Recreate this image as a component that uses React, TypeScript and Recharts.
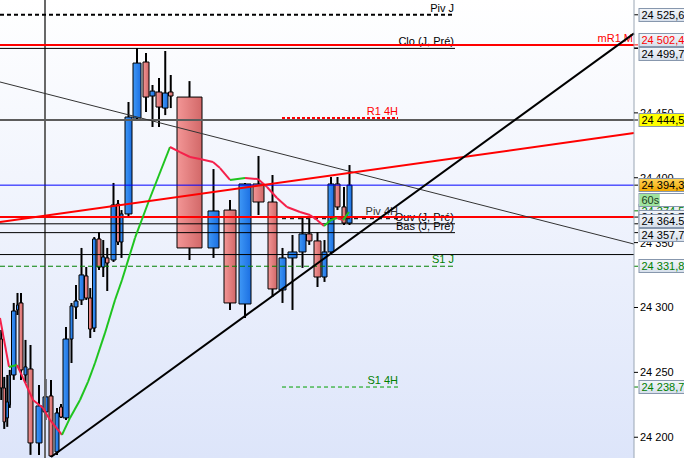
import React from 'react';
import { ComposedChart, XAxis, YAxis, ReferenceLine, ReferenceArea, CartesianGrid } from 'recharts';

const CHART_W = 684;
const CHART_H = 458;
const AXIS_W = 50;
const Y_MIN = 24184;
const Y_MAX = 24537;
const T_MIN = 0;
const T_MAX = 634;
const FONT = '"Liberation Sans", Arial, sans-serif';

const priceTicks = [24200, 24250, 24300, 24350, 24400, 24450, 24500];
// ticks whose labels sit under the price tags (drawn in the tag layer, beneath the tags)
const coveredTicks = [24350, 24400, 24450, 24500];

// ---- candles (time span, OHLC) ----
const barStart = [0, 3, 6, 9, 11.5, 16.5, 19, 24, 28, 36, 43, 49, 55, 59.5, 63, 70, 74, 79, 84.5, 88.5, 92.5, 97, 101.5, 105.5, 111, 116.5, 120, 125, 133, 143, 150, 156, 162.5, 168.5, 177, 208, 224, 239, 253, 268, 279, 288, 299, 306.5, 314, 322, 328, 335, 342, 347];
const barEnd = [2.5, 5.5, 8.5, 10.5, 16, 18.5, 23, 27, 33, 42, 48, 53, 59, 62.5, 69, 73, 78, 84, 88, 92, 96, 101, 105, 109, 116, 119.5, 123, 132, 141, 149, 155, 162, 168, 173, 202, 219, 236, 251, 264, 277, 286, 297, 306, 312, 321, 327, 334, 340, 346, 352];
const barOpen = [24275.7, 24238.0, 24214.9, 24224.9, 24248.0, 24298.1, 24303.5, 24248.0, 24252.6, 24195.6, 24219.5, 24231.8, 24188.7, 24223.3, 24214.9, 24275.7, 24300.4, 24305.8, 24324.3, 24307.3, 24284.2, 24352.8, 24331.2, 24338.2, 24336.6, 24379.8, 24350.5, 24372.1, 24446.0, 24489.2, 24463.0, 24466.1, 24453.7, 24466.1, 24462.2, 24345.9, 24375.1, 24302.7, 24395.2, 24381.3, 24313.5, 24338.2, 24342.8, 24356.7, 24351.3, 24323.5, 24342.8, 24395.2, 24377.5, 24365.1];
const barHigh = [24282.7, 24246.5, 24248.0, 24251.9, 24303.5, 24311.2, 24311.2, 24275.0, 24271.1, 24240.3, 24244.9, 24244.2, 24222.6, 24225.7, 24285.0, 24303.5, 24317.4, 24345.9, 24331.2, 24315.0, 24354.3, 24358.2, 24352.0, 24345.9, 24396.0, 24382.8, 24375.1, 24458.4, 24500.0, 24496.1, 24471.5, 24476.9, 24497.7, 24479.2, 24474.5, 24406.7, 24382.8, 24396.0, 24416.8, 24402.1, 24345.9, 24355.9, 24369.0, 24369.0, 24358.2, 24352.0, 24400.6, 24400.6, 24392.9, 24409.8];
const barLow = [24228.7, 24206.4, 24208.0, 24222.6, 24244.2, 24294.2, 24244.2, 24241.8, 24186.4, 24186.4, 24213.3, 24184.8, 24186.4, 24214.9, 24213.3, 24257.2, 24291.2, 24301.9, 24305.8, 24276.5, 24281.1, 24328.9, 24323.5, 24312.7, 24335.1, 24348.2, 24338.2, 24369.7, 24445.0, 24450.7, 24439.1, 24439.1, 24448.3, 24453.7, 24336.6, 24338.2, 24298.1, 24291.9, 24371.3, 24308.1, 24303.5, 24298.1, 24330.5, 24348.2, 24315.8, 24319.7, 24340.5, 24375.1, 24363.6, 24363.6];
const barClose = [24238.0, 24211.8, 24227.2, 24248.0, 24297.3, 24301.9, 24251.9, 24254.2, 24195.6, 24224.1, 24231.1, 24185.6, 24218.7, 24215.6, 24275.7, 24301.2, 24305.0, 24325.1, 24307.3, 24283.4, 24352.8, 24331.2, 24338.9, 24334.3, 24379.0, 24350.5, 24372.1, 24446.8, 24488.4, 24462.2, 24466.8, 24454.5, 24465.3, 24463.0, 24345.9, 24374.4, 24303.5, 24395.2, 24381.3, 24314.3, 24338.2, 24342.8, 24356.7, 24351.3, 24323.5, 24342.8, 24395.2, 24377.5, 24365.1, 24394.3];

// ---- moving average ----
const maTime = [0, 9, 17, 23, 33, 43, 50, 62, 70, 80, 88, 95, 105, 115, 122, 135, 150, 170, 180, 190, 200, 213, 220, 230, 245, 258, 267, 277, 287, 300, 310, 317, 324, 331, 337, 343, 349];
const maValue = [24291.9, 24254.2, 24255.7, 24245.7, 24228.7, 24222.6, 24213.3, 24201.8, 24214.9, 24228.7, 24242.6, 24257.2, 24280.4, 24305.8, 24321.2, 24353.6, 24384.4, 24423.7, 24419.8, 24416.0, 24414.4, 24412.1, 24407.5, 24398.3, 24399.8, 24399.0, 24392.9, 24384.4, 24377.5, 24373.6, 24371.3, 24367.4, 24362.8, 24367.4, 24369.0, 24367.4, 24373.6];

// ---- horizontal levels ----
const dayLevelNames = ['Piv J', 'Clo (J, Pré)', 'Ouv (J, Pré)', 'Bas (J, Pré)', 'S1 J'];
const dayLevelValues = [24525.6, 24499.7, 24364.5, 24357.7, 24331.8];
const dayLevelEnd = 455;
const h4LevelNames = ['R1 4H', 'Piv 4H', 'S1 4H'];
const h4LevelValues = [24446.0, 24368.8, 24238.7];
const h4Start = 282;
const h4End = 398;
const monthLevelName = 'mR1 M';
const monthLevelValue = 24502.4;
const greyLevelValue = 24444.5;
const lastPrice = 24394.3;
const redLevelValue = 24369.7;
const blackLevelValue = 24340.8;
const cursorTime = 45;

// ---- trend lines [time, price] ----
const supportLine = [[51, 24184.8], [634, 24511.3]];
const channelLine = [[0, 24365.9], [634, 24434.5]];
const resistLine = [[0, 24473.8], [634, 24348.9]];

// ---- price tags on the axis ----
const tagValues = [24525.6, 24502.4, 24499.7, 24444.5, 24394.3, 24364.5, 24357.7, 24331.8, 24238.7];
const tagTexts = ['24 525,6', '24 502,4', '24 499,7', '24 444,5', '24 394,3', '24 364.5', '24 357,7', '24 331,8', '24 238,7'];
const hiddenTagValues = [24374.5, 24369.7];
const hiddenTagTexts = ['24 374,5', '24 369,7'];
const timerText = '60s';
const timerFraction = 0.45;

// styles
const tagStyles = [
  { color: '#000', bg: 'url(#gTag)' },
  { color: '#ff0000', bg: 'url(#gTag)' },
  { color: '#000', bg: 'url(#gTag)' },
  { color: '#000', bg: '#ffff00' },
  { color: '#000', bg: 'url(#gOrange)', timer: true },
  { color: '#000', bg: 'url(#gTag)' },
  { color: '#000', bg: 'url(#gTag)' },
  { color: '#008000', bg: 'url(#gTag)' },
  { color: '#008000', bg: 'url(#gTag)' },
];
const hiddenTagStyles = [
  { color: '#008000', bg: 'url(#gTag)' },
  { color: '#000', bg: 'url(#gTag)' },
];
const dayLevelStyles = [
  { stroke: '#000', width: 2, dash: '4 3', text: '#000' },
  { stroke: '#000', width: 1, dash: undefined, text: '#000' },
  { stroke: '#000', width: 1, dash: undefined, text: '#000' },
  { stroke: '#000', width: 1, dash: undefined, text: '#000' },
  { stroke: '#008000', width: 1, dash: '5 3', text: '#008000' },
];
const h4LevelStyles = [
  { stroke: '#ff0000', width: 2, dash: '3 2', text: '#ff0000' },
  { stroke: '#222', width: 2, dash: '4 4', text: '#333' },
  { stroke: '#00a000', width: 1, dash: '4 3', text: '#008000' },
];

const candles = barStart.map((t0, i) => ({
  t0,
  t1: barEnd[i],
  o: barOpen[i],
  h: barHigh[i],
  l: barLow[i],
  c: barClose[i],
}));
const maData = maTime.map((t, i) => ({ t, v: maValue[i] }));
const maSegments = maData.slice(1).map((p, i) => ({ a: maData[i], b: p, up: p.v >= maData[i].v }));

// collision avoidance for axis tags (pixel offsets relative to the scale position)
const PX_PER_UNIT = CHART_H / (Y_MAX - Y_MIN);
const TAG_H = 14;
function resolveTags(centers: number[], heights: number[]): number[] {
  const idx = centers.map((_, i) => i).sort((a, b) => centers[a] - centers[b]);
  let clusters = idx.map((i) => ({ members: [i], top: centers[i] - heights[i] / 2, height: heights[i] }));
  let merged = true;
  while (merged) {
    merged = false;
    for (let k = 0; k < clusters.length - 1; k++) {
      const a = clusters[k];
      const b = clusters[k + 1];
      if (a.top + a.height > b.top + 0.01) {
        const members = [...a.members, ...b.members];
        let off = 0;
        let sum = 0;
        for (const m of members) {
          sum += centers[m] - off - heights[m] / 2;
          off += heights[m];
        }
        clusters.splice(k, 2, { members, top: sum / members.length, height: off });
        merged = true;
        break;
      }
    }
  }
  const out: number[] = new Array(centers.length).fill(0);
  for (const c of clusters) {
    let off = c.top;
    for (const m of c.members) {
      out[m] = off + heights[m] / 2;
      off += heights[m];
    }
  }
  return out;
}
const tagNatural = tagValues.map((v, i) => (Y_MAX - v) * PX_PER_UNIT + (tagStyles[i].timer ? TAG_H / 2 : 0));
const tagHeights = tagValues.map((_, i) => (tagStyles[i].timer ? TAG_H * 2 : TAG_H));
const tagResolved = resolveTags(tagNatural, tagHeights);
const tagOffsets = tagResolved.map((r, i) => r - tagNatural[i]);

const fmtPrice = (v: number) => `${Math.floor(v / 1000)} ${String(Math.round(v % 1000)).padStart(3, '0')}`;

function AxisTick(props: any) {
  const { x, y, payload } = props;
  if (coveredTicks.includes(payload.value)) return <g />;
  return (
    <text x={x} y={y} dy="0.355em" textAnchor="start" fontSize={11} fill="#000" fontFamily={FONT}>
      {fmtPrice(payload.value)}
    </text>
  );
}

function TickText(viewBox: any, value: number) {
  const x = viewBox.x + viewBox.width;
  return (
    <text x={x + 6} y={viewBox.y} dy="0.355em" fontSize={11} fill="#000" fontFamily={FONT}>
      {fmtPrice(value)}
    </text>
  );
}

function AxisTag(viewBox: any, text: string, color: string, bg: string, dy: number, timer?: boolean) {
  const x = viewBox.x + viewBox.width;
  const yv = viewBox.y;
  const cy = yv + dy;
  const top = Math.round(cy - TAG_H / 2) + 0.5;
  return (
    <g>
      <line x1={x} x2={x + 4} y1={yv} y2={yv} stroke={color} strokeWidth={1} />
      <rect x={x + 5} y={top} width={60} height={TAG_H - 1} fill={bg} stroke="#8797ad" strokeWidth={1} />
      <text x={x + 7.5} y={top + 10.5} fontSize={11} fill={color} fontFamily={FONT}>
        {text}
      </text>
      {timer ? (
        <g>
          <rect x={x + 5} y={top + TAG_H + 1} width={60} height={TAG_H - 1} fill="#ffffff" stroke="#8797ad" strokeWidth={1} />
          <rect x={x + 5.5} y={top + TAG_H + 1.5} width={45 * timerFraction} height={TAG_H - 2} fill="#9fe39f" />
          <text x={x + 7.5} y={top + TAG_H + 11.5} fontSize={11} fill="#1d401d" fontFamily={FONT}>
            {timerText}
          </text>
        </g>
      ) : null}
    </g>
  );
}

function LevelText(viewBox: any, text: string, color: string, dx: number) {
  return (
    <text x={viewBox.x + viewBox.width + dx} y={viewBox.y - 3} textAnchor="end" fontSize={11} fill={color} fontFamily={FONT}>
      {text}
    </text>
  );
}

export default function App() {
  return (
    <div style={{ position: 'fixed', left: 0, top: 0, width: CHART_W, height: CHART_H, background: '#ffffff', overflow: 'hidden' }}>
      <ComposedChart
        width={CHART_W}
        height={CHART_H}
        data={maData}
        margin={{ top: 0, right: 0, bottom: 0, left: 0 }}
        style={{ fontFamily: FONT }}
      >
        <defs>
          <linearGradient id="gBg" x1="0" y1="0" x2="0" y2="1">
            <stop offset="0%" stopColor="#ffffff" />
            <stop offset="100%" stopColor="#dde5fa" />
          </linearGradient>
          <linearGradient id="gBlue" x1="0" y1="0" x2="1" y2="0">
            <stop offset="0%" stopColor="#3f98f6" />
            <stop offset="100%" stopColor="#1b6fe2" />
          </linearGradient>
          <linearGradient id="gPink" x1="0" y1="0" x2="1" y2="0">
            <stop offset="0%" stopColor="#f39696" />
            <stop offset="100%" stopColor="#d26868" />
          </linearGradient>
          <linearGradient id="gTag" x1="0" y1="0" x2="0" y2="1">
            <stop offset="0%" stopColor="#f3f6fa" />
            <stop offset="100%" stopColor="#d6dfeb" />
          </linearGradient>
          <linearGradient id="gOrange" x1="0" y1="0" x2="0" y2="1">
            <stop offset="0%" stopColor="#ffd257" />
            <stop offset="100%" stopColor="#f2a700" />
          </linearGradient>
        </defs>
        <CartesianGrid horizontal={false} vertical={false} fill="url(#gBg)" stroke="none" />
        <XAxis dataKey="t" type="number" domain={[T_MIN, T_MAX]} allowDataOverflow hide />
        <YAxis
          orientation="right"
          type="number"
          domain={[Y_MIN, Y_MAX]}
          allowDataOverflow
          ticks={priceTicks}
          interval={0}
          tickFormatter={fmtPrice}
          width={AXIS_W}
          axisLine={{ stroke: '#9aa6b4' }}
          tickLine={{ stroke: '#000' }}
          tickSize={4}
          tickMargin={2}
          tick={<AxisTick />}
        />

        {/* candle bodies */}
        {candles.map((c, i) => (
          <ReferenceArea
            key={'body' + i}
            x1={c.t0}
            x2={c.t1}
            y1={c.o}
            y2={c.c}
            fill={c.c >= c.o ? 'url(#gBlue)' : 'url(#gPink)'}
            fillOpacity={1}
            stroke="#000"
            strokeWidth={1}
            ifOverflow="visible"
          />
        ))}
        {/* candle wicks */}
        {candles.map((c, i) => (
          <ReferenceLine
            key={'wu' + i}
            segment={[
              { x: (c.t0 + c.t1) / 2, y: Math.max(c.o, c.c) },
              { x: (c.t0 + c.t1) / 2, y: c.h },
            ]}
            stroke="#000"
            strokeWidth={2}
            ifOverflow="visible"
          />
        ))}
        {candles.map((c, i) => (
          <ReferenceLine
            key={'wd' + i}
            segment={[
              { x: (c.t0 + c.t1) / 2, y: Math.min(c.o, c.c) },
              { x: (c.t0 + c.t1) / 2, y: c.l },
            ]}
            stroke="#000"
            strokeWidth={2}
            ifOverflow="visible"
          />
        ))}

        {/* vertical cursor */}
        <ReferenceLine x={cursorTime} stroke="#686868" strokeWidth={2} ifOverflow="visible" />

        {/* full width levels */}
        <ReferenceLine y={blackLevelValue} stroke="#000" strokeWidth={1} ifOverflow="visible" />
        <ReferenceLine y={greyLevelValue} stroke="#5c5c5c" strokeWidth={2} ifOverflow="visible" />
        <ReferenceLine y={lastPrice} stroke="#0000ff" strokeWidth={1} ifOverflow="visible" />

        {/* daily levels */}
        {dayLevelValues.map((v, i) => (
          <ReferenceLine
            key={'day' + i}
            segment={[
              { x: T_MIN, y: v },
              { x: dayLevelEnd, y: v },
            ]}
            stroke={dayLevelStyles[i].stroke}
            strokeWidth={dayLevelStyles[i].width}
            strokeDasharray={dayLevelStyles[i].dash}
            ifOverflow="visible"
            label={(p: any) => LevelText(p.viewBox, dayLevelNames[i], dayLevelStyles[i].text, -1)}
          />
        ))}
        {/* 4H levels */}
        {h4LevelValues.map((v, i) => (
          <ReferenceLine
            key={'h4' + i}
            segment={[
              { x: h4Start, y: v },
              { x: h4End, y: v },
            ]}
            stroke={h4LevelStyles[i].stroke}
            strokeWidth={h4LevelStyles[i].width}
            strokeDasharray={h4LevelStyles[i].dash}
            ifOverflow="visible"
            label={(p: any) => LevelText(p.viewBox, h4LevelNames[i], h4LevelStyles[i].text, 0)}
          />
        ))}
        <ReferenceLine y={redLevelValue} stroke="#ff0000" strokeWidth={2} ifOverflow="visible" />
        <ReferenceLine
          y={monthLevelValue}
          stroke="#ff0000"
          strokeWidth={2}
          ifOverflow="visible"
          label={(p: any) => LevelText(p.viewBox, monthLevelName, '#ff0000', -1)}
        />

        {/* moving average */}
        {maSegments.map((s, i) => (
          <ReferenceLine
            key={'ma' + i}
            segment={[
              { x: s.a.t, y: s.a.v },
              { x: s.b.t, y: s.b.v },
            ]}
            stroke={s.up ? '#1fc41f' : '#f5204a'}
            strokeWidth={2}
            ifOverflow="visible"
          />
        ))}

        {/* trend lines */}
        <ReferenceLine
          segment={[
            { x: resistLine[0][0], y: resistLine[0][1] },
            { x: resistLine[1][0], y: resistLine[1][1] },
          ]}
          stroke="#333"
          strokeWidth={1}
          ifOverflow="visible"
        />
        <ReferenceLine
          segment={[
            { x: channelLine[0][0], y: channelLine[0][1] },
            { x: channelLine[1][0], y: channelLine[1][1] },
          ]}
          stroke="#ff0000"
          strokeWidth={2}
          ifOverflow="visible"
        />
        <ReferenceLine
          segment={[
            { x: supportLine[0][0], y: supportLine[0][1] },
            { x: supportLine[1][0], y: supportLine[1][1] },
          ]}
          stroke="#000"
          strokeWidth={2}
          ifOverflow="visible"
        />

        {/* covered tick labels, beneath the tags */}
        {coveredTicks.map((v, i) => (
          <ReferenceLine
            key={'ct' + i}
            y={v}
            stroke="none"
            strokeWidth={0}
            ifOverflow="visible"
            label={(p: any) => TickText(p.viewBox, v)}
          />
        ))}
        {/* axis tags */}
        {hiddenTagValues.map((v, i) => (
          <ReferenceLine
            key={'ht' + i}
            y={v}
            stroke="none"
            strokeWidth={0}
            ifOverflow="visible"
            label={(p: any) => AxisTag(p.viewBox, hiddenTagTexts[i], hiddenTagStyles[i].color, hiddenTagStyles[i].bg, 0)}
          />
        ))}
        {tagValues.map((v, i) => (
          <ReferenceLine
            key={'tag' + i}
            y={v}
            stroke="none"
            strokeWidth={0}
            ifOverflow="visible"
            label={(p: any) => AxisTag(p.viewBox, tagTexts[i], tagStyles[i].color, tagStyles[i].bg, tagOffsets[i], tagStyles[i].timer)}
          />
        ))}
      </ComposedChart>
    </div>
  );
}
